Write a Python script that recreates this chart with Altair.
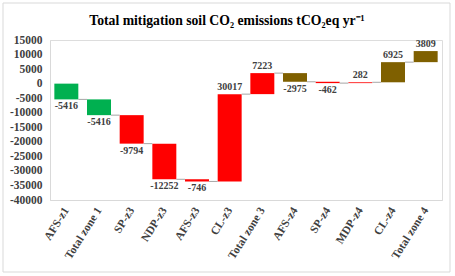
import json
import altair as alt
import pandas as pd

categories = ["AFS-z1", "Total zone 1", "SP-z3", "NDP-z3", "AFS-z3", "CL-z3",
              "Total zone 3", "AFS-z4", "SP-z4", "MDP-z4", "CL-z4", "Total zone 4"]
deltas = [-5416, -5416, -9794, -12252, -746, 30017, 7223, -2975, -462, 282, 6925, 3809]
groups = ["green", "green", "red", "red", "red", "red", "red", "brown", "red", "red", "brown", "brown"]
y_ticks = list(range(-40000, 15001, 5000))

rows = []
cum = 0
for i, (c, d, g) in enumerate(zip(categories, deltas, groups)):
    start = cum
    end = cum + d
    cum = end
    rows.append(dict(idx=i, cat=c, delta=d, group=g, start=start, end=end))
df = pd.DataFrame(rows)

HALF = 0.367
FONT = "Liberation Serif"
TXT = "#404040"

x_scale = alt.Scale(domain=[-0.5, len(categories) - 0.5], nice=False, zero=False)
y_scale = alt.Scale(domain=[-40000, 15000], nice=False, zero=False)
label_expr = json.dumps(categories) + "[datum.value]"

x_axis = alt.Axis(values=list(range(len(categories))), labelExpr=label_expr,
                  title=None, ticks=False, grid=False, labelAngle=-58,
                  labelOverlap=False, labelBound=False,
                  labelFont=FONT, labelFontWeight="bold", labelFontSize=11.5,
                  labelColor=TXT, domainColor="#d9d9d9", labelPadding=8)
y_axis = alt.Axis(values=y_ticks, title=None, ticks=False, grid=False,
                  labelOverlap=False, labelBound=False,
                  labelExpr="'' + datum.value",
                  labelFont=FONT, labelFontWeight="bold", labelFontSize=11.5,
                  labelColor=TXT, domainColor="#d9d9d9", labelPadding=8)

base = alt.Chart(df)

bars = base.transform_calculate(
    x_lo=f"datum.idx - {HALF}", x_hi=f"datum.idx + {HALF}"
).mark_rect().encode(
    x=alt.X("x_lo:Q", scale=x_scale, axis=x_axis),
    x2="x_hi:Q",
    y=alt.Y("start:Q", scale=y_scale, axis=y_axis),
    y2="end:Q",
    color=alt.Color("group:N", legend=None,
                    scale=alt.Scale(domain=["green", "red", "brown"],
                                    range=["#00b050", "#ff0000", "#7f6000"])),
)

connectors = base.transform_filter(
    f"datum.idx < {len(categories) - 1}"
).transform_calculate(
    c_lo=f"datum.idx + {HALF}", c_hi=f"datum.idx + 1 - {HALF}"
).mark_rule(color="#a6a6a6", strokeWidth=1).encode(
    x=alt.X("c_lo:Q", scale=x_scale, axis=x_axis),
    x2="c_hi:Q",
    y=alt.Y("end:Q", scale=y_scale, axis=y_axis),
)

labelled = base.transform_calculate(lbl="'' + datum.delta")

neg_labels = labelled.transform_filter("datum.delta < 0").mark_text(
    baseline="top", dy=2, font=FONT, fontWeight="bold", fontSize=10, color=TXT
).encode(
    x=alt.X("idx:Q", scale=x_scale, axis=x_axis),
    y=alt.Y("end:Q", scale=y_scale, axis=y_axis),
    text="lbl:N",
)

pos_labels = labelled.transform_filter("datum.delta >= 0").mark_text(
    baseline="bottom", dy=-2, font=FONT, fontWeight="bold", fontSize=10, color=TXT
).encode(
    x=alt.X("idx:Q", scale=x_scale, axis=x_axis),
    y=alt.Y("end:Q", scale=y_scale, axis=y_axis),
    text="lbl:N",
)

frame = alt.Chart(pd.DataFrame({"a": [0]})).mark_rect(
    fill="transparent", stroke="#d9d9d9", strokeWidth=1
).encode(
    x=alt.value(-47), x2=alt.value(400), y=alt.value(-37), y2=alt.value(232)
)

chart = alt.layer(bars, connectors, neg_labels, pos_labels, frame).properties(
    width=392,
    height=160,
    autosize=alt.AutoSizeParams(type="none"),
    padding={"left": 50, "top": 40, "right": 13, "bottom": 76},
    title=alt.Title(
        "Total mitigation soil CO\u2082 emissions tCO\u2082eq yr\u207b\u00b9",
        font=FONT, fontSize=13.7, fontWeight="bold", color="#000000",
        anchor="middle", dx=-19, offset=-25,
    ),
).configure_view(stroke=None).configure(background="white")

chart.save("out.html", embed_options={"renderer": "svg", "actions": False})
